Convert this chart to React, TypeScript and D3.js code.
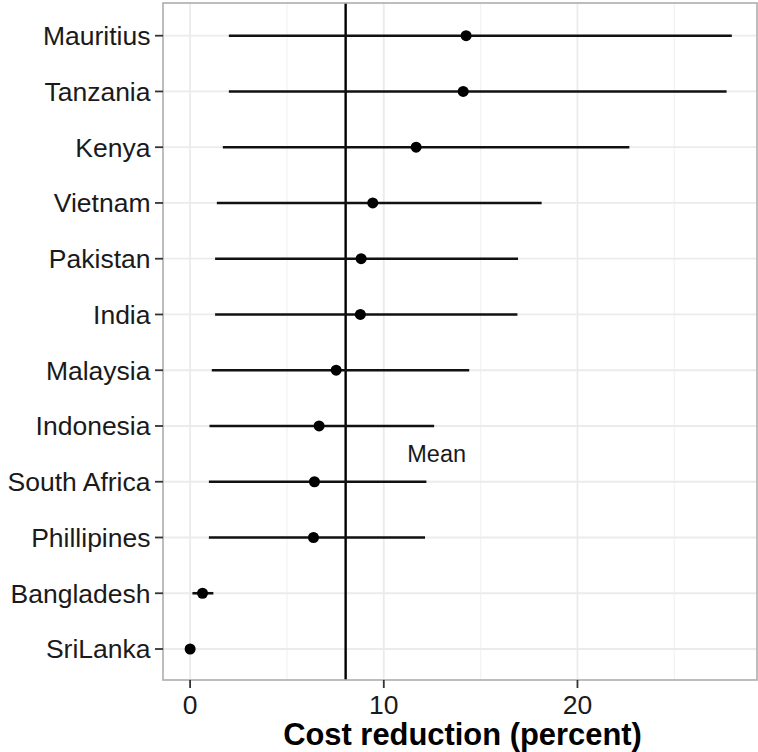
import React from "react";
import * as d3 from "d3";

const countries = ["Mauritius", "Tanzania", "Kenya", "Vietnam", "Pakistan", "India", "Malaysia", "Indonesia", "South Africa", "Phillipines", "Bangladesh", "SriLanka"];
const estimates = [14.25, 14.1, 11.67, 9.43, 8.83, 8.79, 7.54, 6.66, 6.42, 6.37, 0.64, 0];
const lower = [2.0, 2.0, 1.69, 1.38, 1.29, 1.29, 1.12, 1.0, 0.97, 0.97, 0.12, 0];
const upper = [27.97, 27.7, 22.68, 18.15, 16.93, 16.9, 14.41, 12.6, 12.2, 12.13, 1.2, 0];
const meanValue = 8.03;
const xTicks = [0, 10, 20];
const xMinorTicks = [5, 15, 25];
const xTitle = "Cost reduction (percent)";
const meanLabel = "Mean";

const W = 758;
const H = 752;
const panel = { left: 163, right: 757, top: 3, bottom: 680 };
const font = "'Liberation Sans', Arial, Helvetica, sans-serif";

export default function App() {
  const x = d3.scaleLinear().domain([-1.4, 29.27]).range([panel.left, panel.right]);
  const y = d3.scalePoint<string>().domain(countries).range([35.7, 649]);

  const meanY = ((y("Indonesia") as number) + (y("South Africa") as number)) / 2;

  return (
    <svg width={W} height={H} style={{ position: "absolute", left: 0, top: 0, background: "#fff" }}>
      <rect x={panel.left} y={panel.top} width={panel.right - panel.left} height={panel.bottom - panel.top} fill="#fff" />
      {xMinorTicks.map((t) => (
        <line key={"mn" + t} x1={x(t)} x2={x(t)} y1={panel.top} y2={panel.bottom} stroke="#f2f2f2" strokeWidth={1.2} />
      ))}
      {xTicks.map((t) => (
        <line key={"mj" + t} x1={x(t)} x2={x(t)} y1={panel.top} y2={panel.bottom} stroke="#ebebeb" strokeWidth={1.8} />
      ))}
      {countries.map((c) => (
        <line key={"gy" + c} x1={panel.left} x2={panel.right} y1={y(c)} y2={y(c)} stroke="#ebebeb" strokeWidth={1.8} />
      ))}
      <line x1={x(meanValue)} x2={x(meanValue)} y1={panel.top} y2={panel.bottom} stroke="#000" strokeWidth={2.4} />
      {countries.map((c, i) => (
        <g key={"d" + c}>
          {upper[i] > lower[i] && (
            <line x1={x(lower[i])} x2={x(upper[i])} y1={y(c)} y2={y(c)} stroke="#111" strokeWidth={2.6} />
          )}
          <circle cx={x(estimates[i])} cy={y(c)} r={5.5} fill="#000" />
        </g>
      ))}
      <text x={x(12.73)} y={meanY + 8.5} textAnchor="middle" fontFamily={font} fontSize={23.5} fill="#1a1a1a">
        {meanLabel}
      </text>
      <rect x={panel.left} y={panel.top} width={panel.right - panel.left} height={panel.bottom - panel.top} fill="none" stroke="#adadad" strokeWidth={1.6} />
      {countries.map((c) => (
        <g key={"yl" + c}>
          <line x1={panel.left - 8} x2={panel.left} y1={y(c)} y2={y(c)} stroke="#333" strokeWidth={1.8} />
          <text x={panel.left - 12.5} y={(y(c) as number) + 9.3} textAnchor="end" fontFamily={font} fontSize={26.5} fill="#1a1a1a">
            {c}
          </text>
        </g>
      ))}
      {xTicks.map((t) => (
        <g key={"xl" + t}>
          <line x1={x(t)} x2={x(t)} y1={panel.bottom} y2={panel.bottom + 8} stroke="#333" strokeWidth={1.8} />
          <text x={x(t)} y={713.5} textAnchor="middle" fontFamily={font} fontSize={26.5} fill="#1a1a1a">
            {t}
          </text>
        </g>
      ))}
      <text x={(panel.left + panel.right) / 2 + 2.5} y={745} textAnchor="middle" fontFamily={font} fontSize={30.9} fontWeight="bold" fill="#000">
        {xTitle}
      </text>
    </svg>
  );
}
